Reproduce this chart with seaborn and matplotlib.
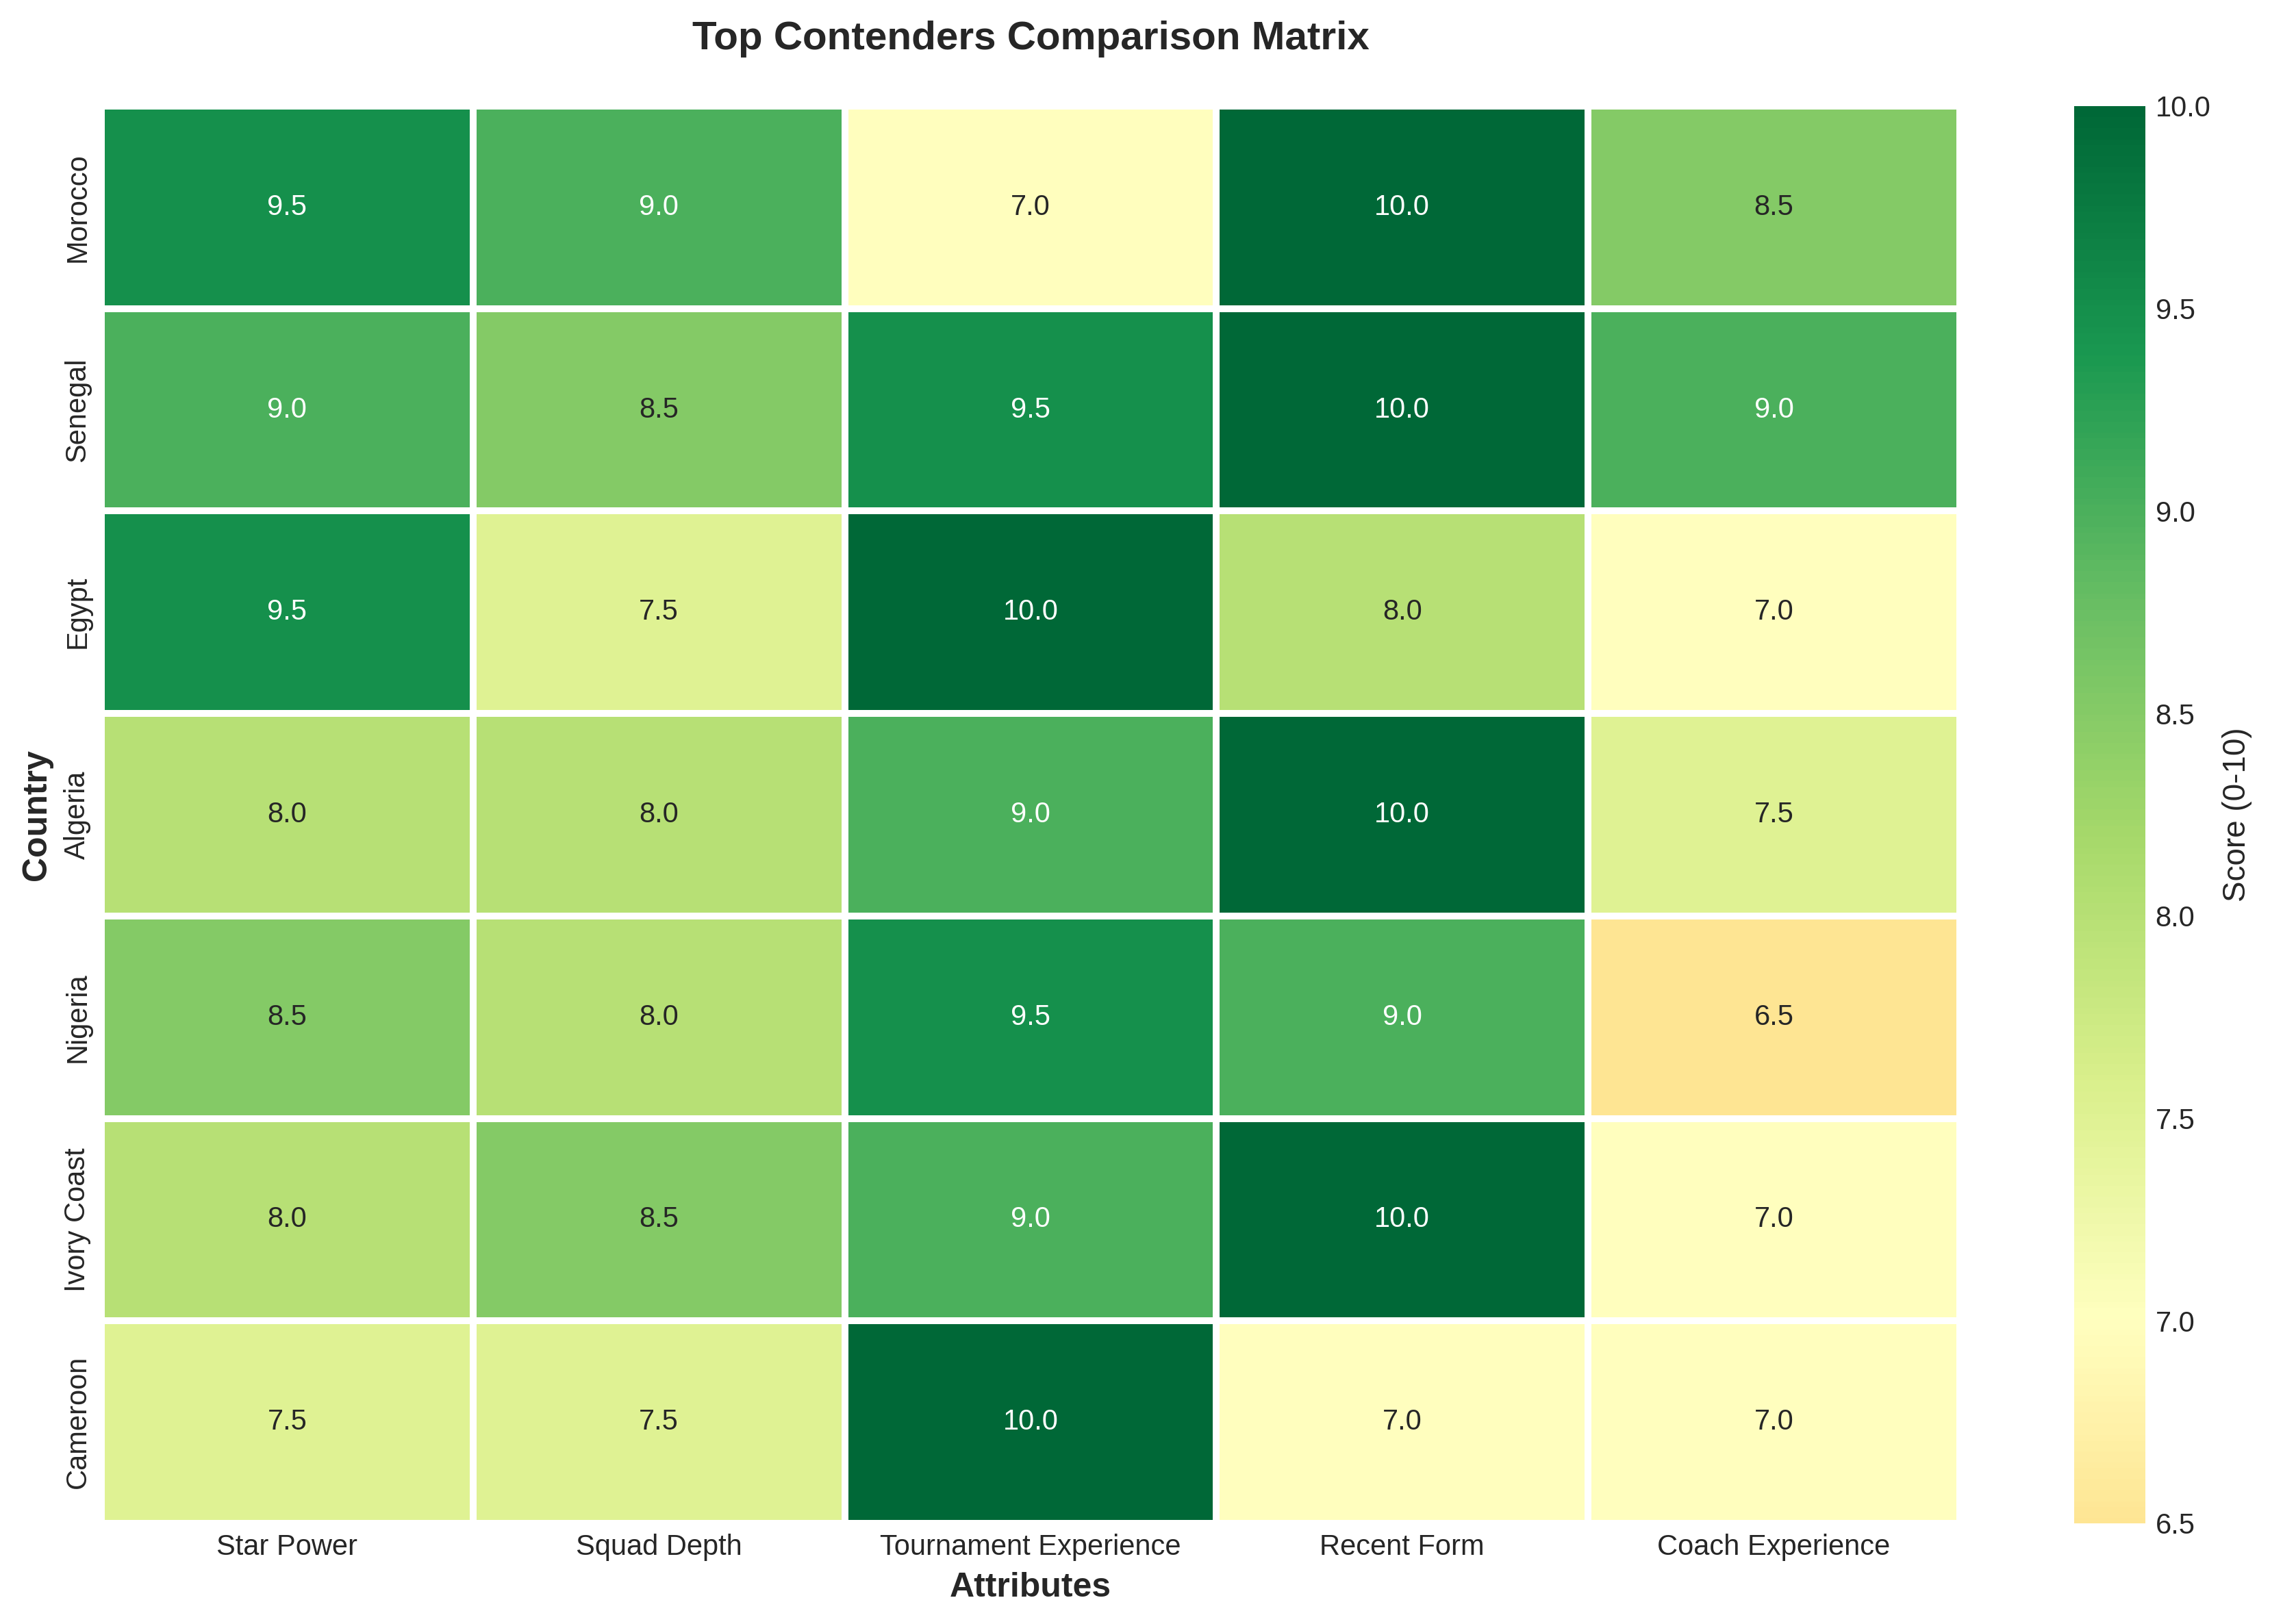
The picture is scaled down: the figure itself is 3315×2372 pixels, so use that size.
import matplotlib
matplotlib.use("Agg")
import matplotlib.pyplot as plt
import seaborn as sns
import pandas as pd

countries = ["Morocco", "Senegal", "Egypt", "Algeria", "Nigeria", "Ivory Coast", "Cameroon"]
attributes = ["Star Power", "Squad Depth", "Tournament Experience", "Recent Form", "Coach Experience"]
star_power = [9.5, 9.0, 9.5, 8.0, 8.5, 8.0, 7.5]
squad_depth = [9.0, 8.5, 7.5, 8.0, 8.0, 8.5, 7.5]
tournament_experience = [7.0, 9.5, 10.0, 9.0, 9.5, 9.0, 10.0]
recent_form = [10.0, 10.0, 8.0, 10.0, 9.0, 10.0, 7.0]
coach_experience = [8.5, 9.0, 7.0, 7.5, 6.5, 7.0, 7.0]

df = pd.DataFrame(
    {
        attributes[0]: star_power,
        attributes[1]: squad_depth,
        attributes[2]: tournament_experience,
        attributes[3]: recent_form,
        attributes[4]: coach_experience,
    },
    index=countries,
)

plt.style.use("seaborn-v0_8-whitegrid")
plt.rcParams["font.family"] = ["Liberation Sans", "DejaVu Sans"]
plt.rcParams["text.color"] = "#262626"
plt.rcParams["axes.labelcolor"] = "#262626"
plt.rcParams["xtick.color"] = "#262626"
plt.rcParams["ytick.color"] = "#262626"

W, H = 3315, 2372
fig = plt.figure(figsize=(W / 300, H / 300), dpi=300)
ax = fig.add_axes([148 / W, 1 - 2225 / H, (2862 - 148) / W, (2225 - 155) / H])
cax = fig.add_axes([3029 / W, 1 - 2225 / H, (3133 - 3029) / W, (2225 - 155) / H])

sns.heatmap(
    df,
    ax=ax,
    cbar_ax=cax,
    cmap="RdYlGn",
    center=7,
    annot=True,
    fmt=".1f",
    annot_kws={"fontsize": 10},
    linewidths=2,
    linecolor="white",
    cbar_kws={"label": "Score (0-10)"},
)
ax.grid(False)
ax.set_title("Top Contenders Comparison Matrix", fontsize=14, fontweight="bold", pad=20)
ax.set_xlabel("Attributes", fontsize=12, fontweight="bold")
ax.set_ylabel("Country", fontsize=12, fontweight="bold")
ax.tick_params(axis="both", labelsize=10, length=0)
plt.setp(ax.get_yticklabels(), rotation=90, va="center")
plt.setp(ax.get_xticklabels(), rotation=0)
cax.tick_params(labelsize=10, length=0)
cax.yaxis.label.set_size(11)

fig.savefig("out.png", dpi=300)
